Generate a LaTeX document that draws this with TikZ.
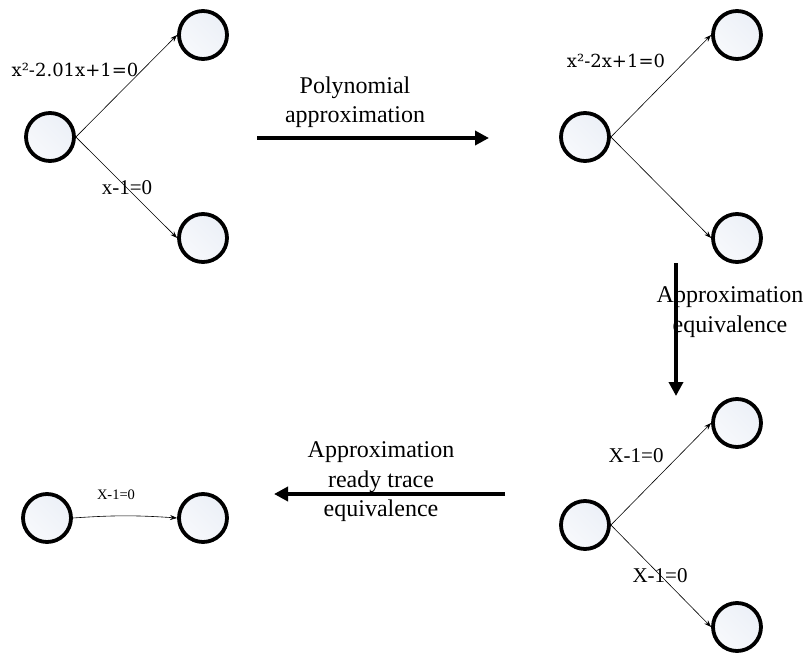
\documentclass[tikz,border=0pt]{standalone}
\usepackage{fontspec}
\newfontfamily\tnr{Liberation Serif}
\newfontfamily\dvs{DejaVu Serif}
\usetikzlibrary{arrows.meta}
\definecolor{statefill}{RGB}{236,240,247}
\begin{document}
\begin{tikzpicture}[x=1pt,y=-1pt,
  state/.style={circle,draw=black,line width=3.8pt,left color=statefill,right color=white!60!statefill,shading angle=-45,minimum size=48pt,inner sep=0pt},
  edge/.style={line width=0.6pt,-{Stealth[length=7pt,width=5pt]}},
  bigarrow/.style={line width=3.5pt,-{Triangle[length=14pt,width=14pt]}},
  bigtext/.style={font=\tnr\fontsize{24}{29.5}\selectfont,align=center,inner sep=0pt},
  elabel/.style={font=\tnr\fontsize{21}{24}\selectfont,inner sep=0pt,anchor=base},
  slabel/.style={font=\tnr\fontsize{14.5}{17}\selectfont,inner sep=0pt,anchor=base},
  qlabel/.style={font=\dvs\fontsize{18}{21}\selectfont,inner sep=0pt,anchor=base}
]
\useasboundingbox (0,0) rectangle (809,653);

% top-left group
\node[state] (a0) at (50,137) {};
\node[state] (a1) at (203,35) {};
\node[state] (a2) at (203,238) {};
\draw[edge] (a0.east) -- (a1.west);
\draw[edge] (a0.east) -- (a2.west);
\node[qlabel] (la1) at (75,76) {x²-2.01x+1=0};
\node[elabel] (la2) at (127,194) {x-1=0};

% top-right group
\node[state] (b0) at (585,137) {};
\node[state] (b1) at (737,35) {};
\node[state] (b2) at (737,238) {};
\draw[edge] (b0.east) -- (b1.west);
\draw[edge] (b0.east) -- (b2.west);
\node[qlabel] (lb1) at (616,67) {x²-2x+1=0};

% bottom-right group
\node[state] (c0) at (585,525) {};
\node[state] (c1) at (737,423) {};
\node[state] (c2) at (737,627) {};
\draw[edge] (c0.east) -- (c1.west);
\draw[edge] (c0.east) -- (c2.west);
\node[elabel] (lc1) at (636,462) {X-1=0};
\node[elabel] (lc2) at (660,582) {X-1=0};

% bottom-left group
\node[state] (d0) at (47,518) {};
\node[state] (d1) at (203,518) {};
\draw[edge] (d0.east) to[bend left=4] (d1.west);
\node[slabel] (ld1) at (116,499) {X-1=0};

% big arrows
\coordinate (p1s) at (257,138);
\coordinate (p1e) at (489,138);
\draw[bigarrow] (p1s) -- (p1e);
\node[bigtext] (t1) at (355,102) {Polynomial\\approximation};

\coordinate (p2s) at (676,263);
\coordinate (p2e) at (676,396);
\draw[bigarrow] (p2s) -- (p2e);
\node[bigtext] (t2) at (730,312) {Approximation\\equivalence};

\coordinate (p3s) at (505,494);
\coordinate (p3e) at (274,494);
\draw[bigarrow] (p3s) -- (p3e);
\node[bigtext] (t3) at (381,482) {Approximation\\ready trace\\equivalence};
\end{tikzpicture}
\end{document}
